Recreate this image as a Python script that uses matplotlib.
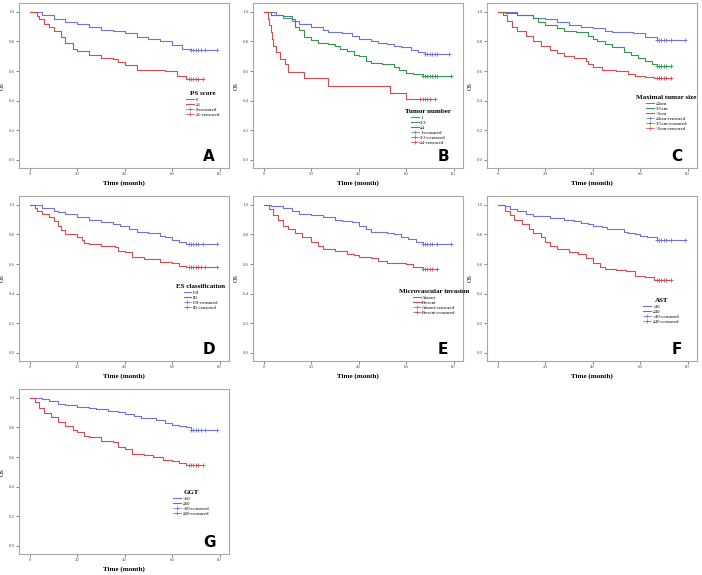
import matplotlib
matplotlib.use("Agg")
import matplotlib.pyplot as plt
from matplotlib.lines import Line2D

# colours similar to SPSS output
BLUE = '#6f6fe6'
GREEN = '#2f9a4c'
RED = '#e0484c'

W, H = 702, 575

# ---------------- data ----------------
# A: PS score
a_blue_t = [0, 5, 10, 15, 20, 25, 30, 35, 40, 45, 50, 55, 60, 64, 68, 79]
a_blue_s = [1.0, 0.98, 0.95, 0.93, 0.92, 0.90, 0.88, 0.87, 0.855, 0.83, 0.82, 0.80, 0.775, 0.75, 0.74, 0.74]
a_blue_c = [68, 69, 70, 71, 72, 74, 79]
a_red_t = [0, 3, 4, 6, 8, 10, 13, 15, 18, 20, 25, 30, 35, 37, 40, 45, 55, 57, 62, 66, 73]
a_red_s = [1.0, 0.97, 0.95, 0.92, 0.90, 0.87, 0.83, 0.79, 0.75, 0.735, 0.71, 0.69, 0.68, 0.66, 0.64, 0.61, 0.61, 0.60, 0.57, 0.547, 0.547]
a_red_c = [67, 68, 69, 70, 71, 73]

# B: Tumor number
b_blue_t = [0, 5, 8, 12, 15, 20, 25, 27, 33, 37, 40, 45, 48, 52, 55, 58, 62, 65, 68, 78]
b_blue_s = [1.0, 0.98, 0.96, 0.94, 0.92, 0.90, 0.88, 0.865, 0.855, 0.84, 0.82, 0.80, 0.79, 0.78, 0.77, 0.76, 0.74, 0.73, 0.715, 0.715]
b_blue_c = [68, 69, 70, 71, 72, 73, 78]
b_green_t = [0, 3, 8, 12, 13, 15, 17, 20, 23, 27, 30, 32, 35, 38, 40, 43, 45, 50, 55, 57, 60, 63, 67, 79]
b_green_s = [1.0, 0.98, 0.97, 0.95, 0.90, 0.875, 0.83, 0.81, 0.79, 0.78, 0.77, 0.75, 0.735, 0.71, 0.70, 0.67, 0.655, 0.645, 0.63, 0.61, 0.59, 0.58, 0.57, 0.57]
b_green_c = [67, 68, 69, 70, 71, 72, 73, 79]
b_red_t = [0, 1.7, 2.2, 3, 3.5, 4, 5, 7, 9, 10, 17, 27, 53, 60, 72]
b_red_s = [1.0, 0.955, 0.91, 0.865, 0.82, 0.77, 0.73, 0.68, 0.645, 0.595, 0.55, 0.50, 0.455, 0.41, 0.41]
b_red_c = [66, 67, 68, 69, 70, 72]

# C: Maximal tumor size
c_blue_t = [0, 8, 15, 20, 25, 30, 35, 40, 45, 48, 57, 62, 67, 79]
c_blue_s = [1.0, 0.98, 0.96, 0.95, 0.93, 0.91, 0.90, 0.89, 0.87, 0.865, 0.855, 0.83, 0.81, 0.81]
c_blue_c = [67, 68, 69, 70, 71, 73, 79]
c_green_t = [0, 3, 8, 15, 17, 20, 25, 28, 33, 38, 40, 42, 45, 48, 53, 56, 59, 62, 65, 67, 73]
c_green_s = [1.0, 0.99, 0.98, 0.96, 0.93, 0.91, 0.89, 0.87, 0.865, 0.84, 0.82, 0.80, 0.78, 0.76, 0.73, 0.71, 0.69, 0.67, 0.65, 0.635, 0.635]
c_green_c = [67, 68, 69, 70, 71, 73]
c_red_t = [0, 2, 4, 6, 8, 12, 15, 18, 22, 25, 28, 32, 37, 38, 40, 44, 50, 55, 58, 62, 66, 73]
c_red_s = [1.0, 0.98, 0.94, 0.90, 0.87, 0.835, 0.80, 0.77, 0.745, 0.725, 0.705, 0.685, 0.67, 0.65, 0.625, 0.61, 0.60, 0.58, 0.57, 0.56, 0.552, 0.552]
c_red_c = [67, 68, 69, 70, 71, 73]

# D: ES classification
d_blue_t = [0, 5, 10, 12, 15, 20, 25, 30, 35, 38, 42, 45, 50, 55, 57, 60, 63, 66, 79]
d_blue_s = [1.0, 0.98, 0.96, 0.95, 0.94, 0.92, 0.90, 0.885, 0.87, 0.855, 0.835, 0.82, 0.81, 0.79, 0.78, 0.76, 0.75, 0.735, 0.735]
d_blue_c = [67, 68, 69, 70, 71, 73, 79]
d_red_t = [0, 2, 3, 5, 8, 10, 12, 13, 15, 20, 22, 23, 25, 30, 36, 37, 40, 43, 48, 55, 60, 63, 66, 79]
d_red_s = [1.0, 0.98, 0.96, 0.94, 0.92, 0.89, 0.86, 0.83, 0.80, 0.78, 0.76, 0.745, 0.735, 0.725, 0.715, 0.69, 0.68, 0.645, 0.633, 0.617, 0.605, 0.59, 0.577, 0.577]
d_red_c = [67, 68, 69, 70, 71, 72, 74, 79]

# E: Microvascular invasion
e_blue_t = [0, 3, 8, 12, 15, 20, 25, 30, 33, 37, 40, 43, 45, 52, 55, 58, 61, 64, 67, 79]
e_blue_s = [1.0, 0.99, 0.98, 0.96, 0.94, 0.93, 0.92, 0.90, 0.89, 0.885, 0.86, 0.835, 0.815, 0.81, 0.80, 0.78, 0.77, 0.75, 0.737, 0.737]
e_blue_c = [67, 68, 69, 70, 71, 73, 79]
e_red_t = [0, 2, 4, 6, 8, 10, 13, 16, 20, 23, 25, 30, 35, 38, 40, 45, 48, 52, 60, 63, 67, 73]
e_red_s = [1.0, 0.97, 0.93, 0.90, 0.86, 0.84, 0.81, 0.78, 0.75, 0.725, 0.70, 0.69, 0.67, 0.66, 0.646, 0.64, 0.62, 0.61, 0.60, 0.58, 0.565, 0.565]
e_red_c = [67, 68, 69, 70, 71, 73]

# F: AST
f_blue_t = [0, 3, 5, 8, 12, 15, 22, 28, 32, 35, 38, 40, 44, 46, 53, 55, 58, 60, 63, 67, 79]
f_blue_s = [1.0, 0.99, 0.97, 0.96, 0.94, 0.925, 0.91, 0.90, 0.89, 0.88, 0.87, 0.86, 0.85, 0.835, 0.82, 0.81, 0.80, 0.79, 0.78, 0.76, 0.76]
f_blue_c = [67, 68, 69, 70, 71, 73, 79]
f_red_t = [0, 3, 5, 7, 10, 13, 15, 18, 20, 22, 25, 30, 34, 37, 40, 43, 45, 50, 54, 58, 62, 66, 73]
f_red_s = [1.0, 0.96, 0.93, 0.90, 0.873, 0.84, 0.81, 0.78, 0.75, 0.725, 0.705, 0.68, 0.67, 0.64, 0.61, 0.58, 0.57, 0.56, 0.55, 0.52, 0.51, 0.49, 0.49]
f_red_c = [67, 68, 69, 70, 71, 73]

# G: GGT
g_blue_t = [0, 5, 8, 12, 15, 20, 25, 28, 33, 37, 40, 44, 47, 53, 57, 60, 63, 66, 68, 79]
g_blue_s = [1.0, 0.99, 0.98, 0.96, 0.953, 0.94, 0.93, 0.925, 0.91, 0.903, 0.89, 0.88, 0.863, 0.85, 0.83, 0.82, 0.81, 0.80, 0.78, 0.78]
g_blue_c = [68, 69, 70, 71, 72, 74, 79]
g_red_t = [0, 2, 4, 6, 9, 12, 15, 18, 20, 23, 25, 30, 35, 37, 40, 43, 48, 52, 56, 60, 63, 66, 73]
g_red_s = [1.0, 0.97, 0.93, 0.90, 0.874, 0.84, 0.81, 0.78, 0.768, 0.745, 0.734, 0.71, 0.70, 0.67, 0.655, 0.62, 0.615, 0.60, 0.58, 0.575, 0.56, 0.545, 0.545]
g_red_c = [67, 68, 69, 70, 71, 73]

panels = [
    ('A', 'PS score', ['0', '≥1'],
     [(a_blue_t, a_blue_s, a_blue_c, BLUE), (a_red_t, a_red_s, a_red_c, RED)], (183, 88)),
    ('B', 'Tumor number', ['1', '2-3', '≥4'],
     [(b_blue_t, b_blue_s, b_blue_c, BLUE), (b_green_t, b_green_s, b_green_c, GREEN),
      (b_red_t, b_red_s, b_red_c, RED)], (168, 106)),
    ('C', 'Maximal tumor size', ['≤3cm', '3-5cm', '>5cm'],
     [(c_blue_t, c_blue_s, c_blue_c, BLUE), (c_green_t, c_green_s, c_green_c, GREEN),
      (c_red_t, c_red_s, c_red_c, RED)], (165, 92)),
    ('D', 'ES classification', ['I-II', 'III'],
     [(d_blue_t, d_blue_s, d_blue_c, BLUE), (d_red_t, d_red_s, d_red_c, RED)], (173, 88)),
    ('E', 'Microvascular invasion', ['Absent', 'Present'],
     [(e_blue_t, e_blue_s, e_blue_c, BLUE), (e_red_t, e_red_s, e_red_c, RED)], (162, 93)),
    ('F', 'AST', ['<40', '≥40'],
     [(f_blue_t, f_blue_s, f_blue_c, BLUE), (f_red_t, f_red_s, f_red_c, RED)], (172, 102)),
    ('G', 'GGT', ['<60', '≥60'],
     [(g_blue_t, g_blue_s, g_blue_c, BLUE), (g_red_t, g_red_s, g_red_c, RED)], (170, 101)),
]

col_x = [0, 234, 468]
row_y = [0, 193, 386]

fig = plt.figure(figsize=(W / 100, H / 100), dpi=100)
fig.patch.set_facecolor('white')

SERIF = 'Liberation Serif'

for i, (letter, title, groups, curves, leg_xy) in enumerate(panels):
    px = col_x[i % 3]
    py = row_y[i // 3]
    left, top, w, h = px + 19, py + 3, 210, 165
    ax = fig.add_axes([left / W, 1 - (top + h) / H, w / W, h / H])

    handles = []
    for (t, s, c, color), name in zip(curves, groups):
        ax.step(t, s, where='post', color=color, lw=0.8)
        cs = []
        for ct in c:
            k = max(j for j in range(len(t)) if t[j] <= ct)
            cs.append(s[k])
        ax.plot(c, cs, ls='none', marker='+', ms=3, mew=0.6, color=color)
        handles.append(Line2D([], [], color=color, lw=0.8, label=name))
    for (t, s, c, color), name in zip(curves, groups):
        handles.append(Line2D([], [], color=color, lw=0.5, marker='+', ms=3, mew=0.5,
                              label=name + '-censored'))

    ax.set_xlim(-4.6, 84)
    ax.set_ylim(-0.055, 1.06)
    ax.set_xticks([0, 20, 40, 60, 80])
    ax.set_yticks([0.0, 0.2, 0.4, 0.6, 0.8, 1.0])
    ax.set_yticklabels(['0.0', '0.2', '0.4', '0.6', '0.8', '1.0'])
    ax.tick_params(labelsize=3.5, length=2, width=0.5, pad=1, colors='#555555')
    for lab in ax.get_xticklabels() + ax.get_yticklabels():
        lab.set_family(SERIF)
    for sp in ax.spines.values():
        sp.set_color('#a8a8a8')
        sp.set_linewidth(0.8)

    ax.set_xlabel('Time (month)', fontsize=5, fontweight='bold', family=SERIF, labelpad=3)
    ax.set_ylabel('OS', fontsize=4.5, family=SERIF)
    ax.yaxis.set_label_coords(-0.068, 0.5)

    lx = (leg_xy[0] - 19) / w
    ly = (168 - leg_xy[1]) / h
    leg = ax.legend(handles=handles, loc='upper left', bbox_to_anchor=(lx, ly),
                    frameon=False, title=title, handlelength=1.6,
                    handletextpad=0.3, labelspacing=0.15, borderpad=0.2,
                    prop={'family': SERIF, 'size': 3.5})
    leg.get_title().set_fontsize(5)
    leg.get_title().set_fontweight('bold')
    leg.get_title().set_family(SERIF)

    ax.text(0.905, 0.07, letter, transform=ax.transAxes, fontsize=11,
            fontweight='bold', family='DejaVu Sans', ha='center', va='center')

fig.savefig('out.png', dpi=100, facecolor='white')
